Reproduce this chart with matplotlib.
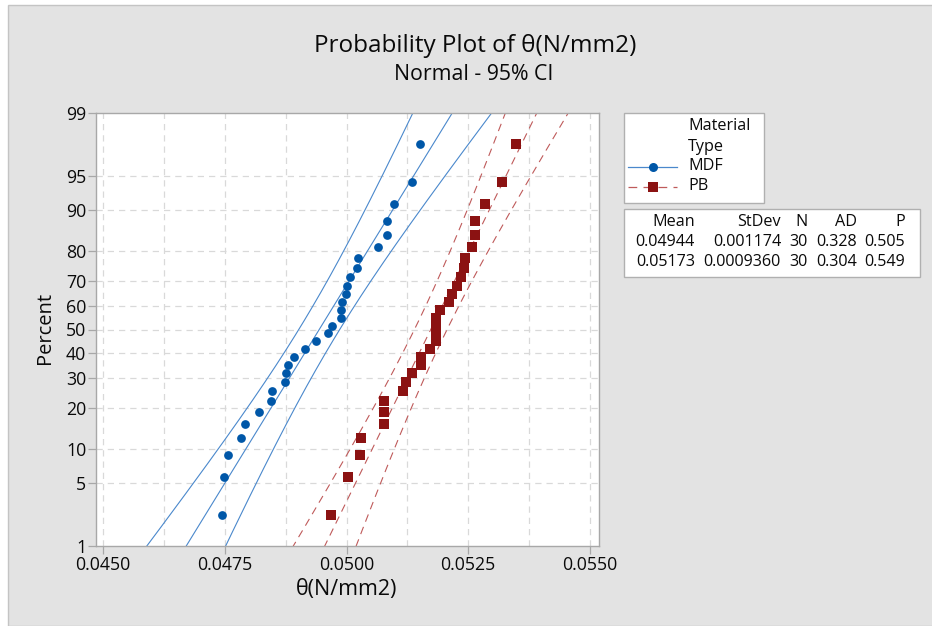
import numpy as np
import matplotlib
matplotlib.use('Agg')
import matplotlib.pyplot as plt
from matplotlib.patches import Rectangle
from matplotlib.lines import Line2D
from statistics import NormalDist

plt.rcParams['font.family'] = ['Open Sans', 'DejaVu Sans']

# ---------------- data ----------------
groups = ['MDF', 'PB']
mdf_values = [0.04745, 0.04749, 0.04757, 0.04784, 0.04792, 0.04820, 0.04845, 0.04848,
              0.04874, 0.04876, 0.04879, 0.04893, 0.04914, 0.04937, 0.04961, 0.04970,
              0.04988, 0.04988, 0.04990, 0.04999, 0.05002, 0.05007, 0.05021, 0.05023,
              0.05065, 0.05084, 0.05084, 0.05097, 0.05135, 0.05150]
pb_values = [0.04969, 0.05003, 0.05028, 0.05030, 0.05076, 0.05076, 0.05078, 0.05117,
             0.05123, 0.05134, 0.05154, 0.05154, 0.05172, 0.05183, 0.05183, 0.05183,
             0.05183, 0.05191, 0.05210, 0.05217, 0.05226, 0.05235, 0.05241, 0.05244,
             0.05257, 0.05263, 0.05263, 0.05284, 0.05319, 0.05348]
means = [0.04944, 0.05173]
stdevs = [0.001174, 0.0009360]
n_obs = [30, 30]
percent_ticks = [1, 5, 10, 20, 30, 40, 50, 60, 70, 80, 90, 95, 99]
x_ticks = [0.0450, 0.0475, 0.0500, 0.0525, 0.0550]
x_tick_labels = ['0.0450', '0.0475', '0.0500', '0.0525', '0.0550']
table_header = ['Mean', 'StDev', 'N', 'AD', 'P']
table_rows = [['0.04944', '0.001174', '30', '0.328', '0.505'],
              ['0.05173', '0.0009360', '30', '0.304', '0.549']]
title = 'Probability Plot of θ(N/mm2)'
subtitle = 'Normal - 95% CI'
x_label = 'θ(N/mm2)'
y_label = 'Percent'
legend_title = ['Material', 'Type']

# ---------------- styles ----------------
W, H = 932, 626
marker_colors = ['#0057a8', '#8b1212']
line_colors = ['#4a88cc', '#bf5a5a']
markers = ['o', 's']
line_styles = ['-', (0, (7, 5))]
txt = '#0a0a0a'

nd = NormalDist()
def z_of(p):
    return nd.inv_cdf(p)

def fx(px):
    return px / W

def fy(py):
    return 1 - py / H

fig = plt.figure(figsize=(W / 100, H / 100), dpi=100, facecolor='white')
fig.add_artist(Rectangle((fx(8), 0), 1 - fx(8) + 0.01, fy(5), transform=fig.transFigure,
                         facecolor='#e3e3e3', edgecolor='#c4c4c4', linewidth=1.0, zorder=-10))

ax = fig.add_axes([fx(96), fy(546), fx(599) - fx(96), fy(113) - fy(546)])
ax.set_facecolor('white')

zgrid = np.linspace(-2.6, 2.6, 300)
for i, (vals, mu, sd, n) in enumerate(zip([mdf_values, pb_values], means, stdevs, n_obs)):
    v = np.sort(np.array(vals))
    ranks = np.arange(1, len(v) + 1)
    pp = (ranks - 0.3) / (len(v) + 0.4)
    zz = np.array([z_of(p) for p in pp])
    fit = mu + zgrid * sd
    half = 1.96 * sd * np.sqrt(1.0 / n + zgrid ** 2 / (2.0 * n))
    for xs in (fit, fit - half, fit + half):
        ax.plot(xs, zgrid, color=line_colors[i], linestyle=line_styles[i], linewidth=0.8, zorder=2)
    ax.plot(v, zz, linestyle='none', marker=markers[i], color=marker_colors[i],
            markersize=6.3 if i == 0 else 6.5, markeredgewidth=0, zorder=3)

ax.set_xlim(0.044856, 0.055185)
ax.set_ylim(z_of(0.01), z_of(0.99))
ax.set_xticks(x_ticks)
ax.set_xticklabels(x_tick_labels)
ax.set_yticks([z_of(p / 100) for p in percent_ticks])
ax.set_yticklabels([str(p) for p in percent_ticks])

# grid lines
for gx in np.arange(0.0450, 0.05501, 0.00125):
    ax.axvline(gx, color='#d9d9d9', linestyle=(0, (5, 4)), linewidth=0.9, zorder=0)
for p in percent_ticks[1:-1]:
    ax.axhline(z_of(p / 100), color='#d9d9d9', linestyle=(0, (5, 4)), linewidth=0.9, zorder=0)

for s in ax.spines.values():
    s.set_color('#a8a8a8')
    s.set_linewidth(1.0)
ax.tick_params(axis='both', direction='out', length=6, width=0.9, color='#a8a8a8',
               labelsize=12.8, labelcolor=txt)
ax.tick_params(axis='x', pad=1)
ax.tick_params(axis='y', pad=1)

fig.text(fx(475), fy(46), title, ha='center', va='center', fontsize=17.5, color=txt)
fig.text(fx(474), fy(74), subtitle, ha='center', va='center', fontsize=15.3, color=txt)
fig.text(fx(45), fy(328), y_label, ha='center', va='center', rotation=90, fontsize=14.5, color=txt)
fig.text(fx(347), fy(589), x_label, ha='center', va='center', fontsize=15.5, color=txt)

# legend box
fig.add_artist(Rectangle((fx(624), fy(203)), fx(764) - fx(624), fy(113) - fy(203),
                         transform=fig.transFigure, facecolor='white', edgecolor='#b0b0b0', linewidth=1.0))
fig.text(fx(688), fy(126), legend_title[0], ha='left', va='center', fontsize=11.6, color=txt)
fig.text(fx(688), fy(147), legend_title[1], ha='left', va='center', fontsize=11.6, color=txt)
for i, (g, yy) in enumerate(zip(groups, [167, 187])):
    fig.add_artist(Line2D([fx(628), fx(677)], [fy(yy), fy(yy)], transform=fig.transFigure,
                          color=line_colors[i], linestyle=line_styles[i], linewidth=0.9))
    fig.add_artist(Line2D([fx(653)], [fy(yy)], transform=fig.transFigure, marker=markers[i],
                          color=marker_colors[i], markersize=6.5, markeredgewidth=0, linestyle='none'))
    fig.text(fx(688), fy(yy - 1), g, ha='left', va='center', fontsize=11.6, color=txt)

# statistics table
fig.add_artist(Rectangle((fx(624), fy(277)), fx(920) - fx(624), fy(209) - fy(277),
                         transform=fig.transFigure, facecolor='white', edgecolor='#b0b0b0', linewidth=1.0))
col_right = [695, 781, 808, 857, 905]
for j, h in enumerate(table_header):
    fig.text(fx(col_right[j]), fy(222), h, ha='right', va='center', fontsize=11.6, color=txt)
for r, row in enumerate(table_rows):
    for j, val in enumerate(row):
        fig.text(fx(col_right[j]), fy(242 + 19.5 * r), val, ha='right', va='center',
                 fontsize=11.6, color=txt)

fig.savefig('out.png', dpi=100, facecolor=fig.get_facecolor())
